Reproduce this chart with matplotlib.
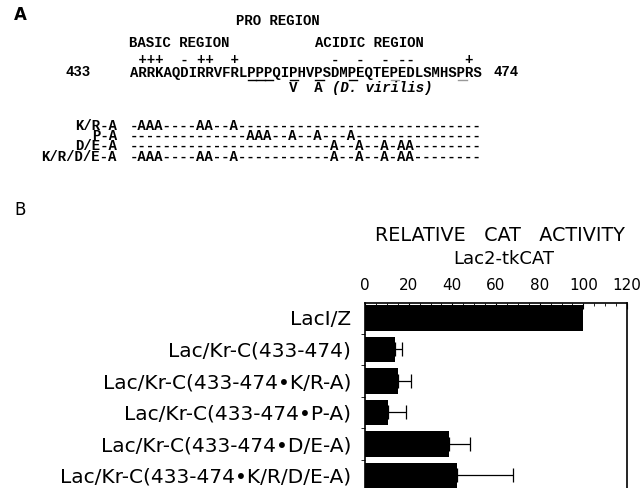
import matplotlib.pyplot as plt
from matplotlib.ticker import MultipleLocator

# panel A: sequence and mutants
seq_start = "433"
seq_end = "474"
sequence = "ARRKAQDIRRVFRLPPPQIPHVPSDMPEQTEPEDLSMHSPRS"
charges = " +++  - ++  +           -  -  - --      + "
virilis = "                   V  A"
underline_black = [15, 16, 17, 20, 23, 27]
underline_grey = [32, 40]
mutant_names = ["K/R-A", "P-A", "D/E-A", "K/R/D/E-A"]
mutant_rows = [
    "-AAA----AA--A-----------------------------",
    "--------------AAA--A--A---A---------------",
    "------------------------A--A--A-AA--------",
    "-AAA----AA--A-----------A--A--A-AA--------",
]

# panel B: relative CAT activity
labels = ["LacI/Z", "Lac/Kr-C(433-474)", "Lac/Kr-C(433-474\u2022K/R-A)",
          "Lac/Kr-C(433-474\u2022P-A)", "Lac/Kr-C(433-474\u2022D/E-A)",
          "Lac/Kr-C(433-474\u2022K/R/D/E-A)"]
activity = [100, 13.6, 14.9, 10.4, 38.7, 42.1]
errors = [0, 3.2, 6.0, 8.6, 9.3, 25.7]

W, H = 642, 488
fig = plt.figure(figsize=(W / 100, H / 100), dpi=100)

# overlay axes in pixel units for the text panel
ta = fig.add_axes([0, 0, 1, 1])
ta.set_xlim(0, W)
ta.set_ylim(H, 0)
ta.axis("off")

fs = 10.1
mono = dict(family="Liberation Mono", weight="bold", size=fs, va="center")
cw = 0.6 * fs * 100 / 72
x0 = 130

ta.text(14, 15, "A", family="DejaVu Sans", weight="bold", size=12, va="center")
ta.text(236, 21, "PRO REGION", **mono)
ta.text(129, 43, "BASIC REGION", **mono)
ta.text(315, 43, "ACIDIC REGION", **mono)
ta.text(x0, 59.5, charges, **mono)
ta.text(65, 72.5, seq_start, **mono)
ta.text(x0, 72.5, sequence, **mono)
ta.text(493, 72.5, seq_end, **mono)
ta.text(x0, 88, virilis, **mono)
ta.text(x0 + 24 * cw, 88, "(D. virilis)", family="Liberation Mono",
        weight="bold", style="italic", size=fs, va="center")

for pos in underline_black:
    ta.plot([x0 + (pos - 1) * cw, x0 + pos * cw], [79.5, 79.5], color="black", lw=1)
for pos in underline_grey:
    ta.plot([x0 + (pos - 1) * cw, x0 + pos * cw], [79.5, 79.5], color="#999999", lw=1)

# mutant table as two multi-line blocks (baseline = last line)
blk = dict(family="Liberation Mono", weight="bold", size=fs, va="baseline",
           linespacing=0.66)
ta.text(117, 160.6, "\n".join(mutant_names), ha="right", multialignment="right", **blk)
ta.text(x0, 160.6, "\n".join(mutant_rows), ha="left", **blk)

ta.text(14, 210, "B", family="DejaVu Sans", size=12, va="center")
ta.text(500, 235.5, "RELATIVE   CAT   ACTIVITY", family="DejaVu Sans", size=13.8,
        ha="center", va="center")
ta.text(504, 258.5, "Lac2-tkCAT", family="DejaVu Sans", size=13,
        ha="center", va="center")

# bar chart
top_px, bot_px = 303, 491.25
ax = fig.add_axes([365 / W, 1 - bot_px / H, 262 / W, (bot_px - top_px) / H])
ypos = list(range(len(labels)))
ax.barh(ypos, activity, height=0.825, color="black")
ax.errorbar(activity[1:], ypos[1:], xerr=[[0] * 5, errors[1:]], fmt="none",
            ecolor="black", elinewidth=0.9, capsize=4.7, capthick=0.9)
ax.set_xlim(0, 120)
ax.set_ylim(5.5, -0.476)
ax.xaxis.tick_top()
ax.set_xticks(range(0, 121, 20))
ax.xaxis.set_minor_locator(MultipleLocator(5))
ax.tick_params(axis="x", which="major", direction="in", length=4, pad=7, labelsize=11)
ax.tick_params(axis="x", which="minor", direction="in", length=2)
ax.set_yticks(ypos)
ax.set_yticklabels(labels, fontsize=14.5)
ax.set_yticks([i + 0.5 for i in range(5)], minor=True)
ax.tick_params(axis="y", which="major", length=0, pad=10)
ax.tick_params(axis="y", which="minor", direction="out", length=3)
ax.spines["bottom"].set_visible(False)
for s in ["top", "left", "right"]:
    ax.spines[s].set_linewidth(1.2)

fig.savefig("out.png", dpi=100)
